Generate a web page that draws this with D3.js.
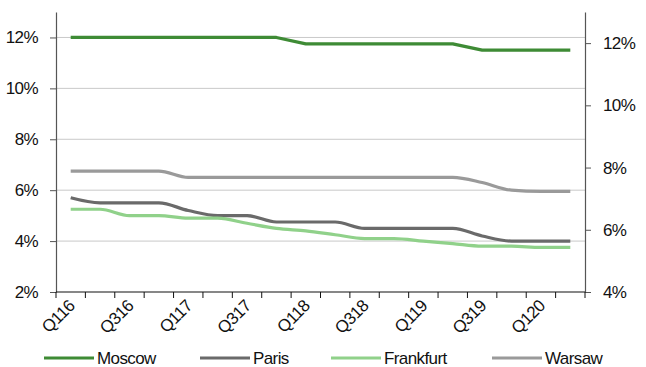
<!DOCTYPE html>
<html>
<head>
<meta charset="utf-8">
<script src="https://cdn.jsdelivr.net/npm/d3@7"></script>
<style>
  html, body { margin: 0; padding: 0; background: #fff; }
  svg { display: block; font-family: "Liberation Sans", Arial, sans-serif; }
</style>
</head>
<body>
<svg id="chart" width="646" height="367"></svg>
<script>
// Quarterly categories
const quarters = ["Q116","Q216","Q316","Q416","Q117","Q217","Q317","Q417",
                  "Q118","Q218","Q318","Q418","Q119","Q219","Q319","Q419",
                  "Q120","Q220"];

// Series values (%)
const moscow    = [12,12,12,12,12,12,12,12,11.75,11.75,11.75,11.75,11.75,11.75,11.5,11.5,11.5,11.5];
const paris     = [5.7,5.5,5.5,5.5,5.2,5,5,4.75,4.75,4.75,4.5,4.5,4.5,4.5,4.2,4,4,4];
const frankfurt = [5.25,5.25,5,5,4.9,4.9,4.7,4.5,4.4,4.25,4.1,4.1,4,3.9,3.8,3.8,3.75,3.75];
const warsaw    = [6.75,6.75,6.75,6.75,6.5,6.5,6.5,6.5,6.5,6.5,6.5,6.5,6.5,6.5,6.3,6,5.95,5.95];

// Axis ticks
const leftTicks  = [2,4,6,8,10,12];
const rightTicks = [4,6,8,10,12];

const series = [
  { name: "Moscow",    values: moscow,    color: "#3e8b35", curve: d3.curveLinear },
  { name: "Paris",     values: paris,     color: "#6a6a6a", curve: d3.curveMonotoneX },
  { name: "Frankfurt", values: frankfurt, color: "#90d18a", curve: d3.curveMonotoneX },
  { name: "Warsaw",    values: warsaw,    color: "#9a9a9a", curve: d3.curveMonotoneX }
];

const svg = d3.select("#chart");
const plotL = 56, plotR = 585, plotT = 12, plotB = 292;

const x = d3.scaleBand().domain(quarters).range([plotL, plotR]).padding(0);
const yL = d3.scaleLinear().domain([2, 13]).range([plotB, plotT]);
const yR = d3.scaleLinear().domain([4, 13]).range([plotB, plotT]);

// Horizontal gridlines
svg.append("g")
  .selectAll("line")
  .data(leftTicks.filter(d => d > 2))
  .join("line")
  .attr("x1", plotL).attr("x2", plotR)
  .attr("y1", d => yL(d)).attr("y2", d => yL(d))
  .attr("stroke", "#c9c9c9").attr("stroke-width", 1);

const fmt = d => d + "%";

// Left axis
const gL = svg.append("g")
  .attr("transform", `translate(${plotL},0)`)
  .call(d3.axisLeft(yL).tickValues(leftTicks).tickFormat(fmt).tickSize(6).tickPadding(12).tickSizeOuter(0));

// Right axis
const gR = svg.append("g")
  .attr("transform", `translate(${plotR},0)`)
  .call(d3.axisRight(yR).tickValues(rightTicks).tickFormat(fmt).tickSize(6).tickPadding(12).tickSizeOuter(0));

[gL, gR].forEach(g => {
  g.select(".domain").attr("stroke", "#555").attr("stroke-width", 1.2);
  g.selectAll(".tick line").attr("stroke", "#555");
  g.selectAll("text").attr("font-size", 17).attr("fill", "#111")
    .attr("font-family", "Liberation Sans, Arial, sans-serif")
    .attr("letter-spacing", "-0.6");
});

// Bottom axis: ticks on band boundaries, labels on every other quarter
const gX = svg.append("g").attr("transform", `translate(0,${plotB})`);
gX.append("line").attr("x1", plotL).attr("x2", plotR).attr("y1", 0).attr("y2", 0)
  .attr("stroke", "#111").attr("stroke-width", 1.2);
const boundaries = quarters.map(q => x(q)).concat([plotR]);
gX.selectAll("line.tk").data(boundaries).join("line").attr("class", "tk")
  .attr("x1", d => d).attr("x2", d => d).attr("y1", 0).attr("y2", 6)
  .attr("stroke", "#111");
gX.selectAll("text").data(quarters.filter((q, i) => i % 2 === 0)).join("text")
  .attr("transform", q => `translate(${x(q) + x.bandwidth() / 2 + 5},${15}) rotate(-45)`)
  .attr("text-anchor", "end")
  .attr("font-size", 17).attr("letter-spacing", "-0.6").attr("fill", "#111")
  .text(q => q);

// Lines
series.forEach(s => {
  const line = d3.line()
    .x((d, i) => x(quarters[i]) + x.bandwidth() / 2)
    .y(d => yL(d))
    .curve(s.curve);
  svg.append("path")
    .datum(s.values)
    .attr("d", line)
    .attr("fill", "none")
    .attr("stroke", s.color)
    .attr("stroke-width", 3.2)
    .attr("stroke-linejoin", "round");
});

// Legend
const legendX = [44, 200, 331, 492];
const lg = svg.append("g");
series.forEach((s, i) => {
  lg.append("line")
    .attr("x1", legendX[i]).attr("x2", legendX[i] + 50)
    .attr("y1", 358).attr("y2", 358)
    .attr("stroke", s.color).attr("stroke-width", 3.2);
  lg.append("text")
    .attr("x", legendX[i] + 53).attr("y", 364)
    .attr("font-size", 17).attr("letter-spacing", "-0.6").attr("fill", "#111")
    .text(s.name);
});
</script>
</body>
</html>
